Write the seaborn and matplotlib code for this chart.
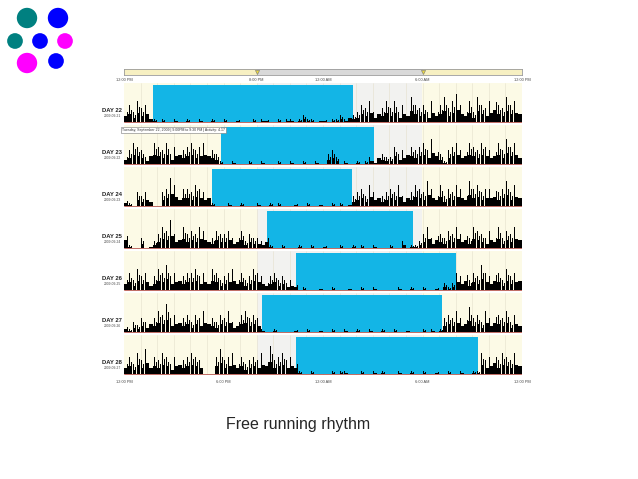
import numpy as np
import pandas as pd
import seaborn as sns
import matplotlib.pyplot as plt
from matplotlib.patches import Rectangle

sns.set_style("white")
plt.rcParams['font.family'] = ['Liberation Sans', 'DejaVu Sans']

# days shown in the actogram, top to bottom
days = ['DAY 22', 'DAY 23', 'DAY 24', 'DAY 25', 'DAY 26', 'DAY 27', 'DAY 28']
dates = ['2009-09-21', '2009-09-22', '2009-09-23', '2009-09-24',
         '2009-09-25', '2009-09-26', '2009-09-27']

# sleep bouts (hours after 12:00 PM)
sleep_start = [1.75, 5.85, 5.3, 8.6, 10.4, 8.3, 10.4]
sleep_end = [13.8, 15.1, 13.75, 17.4, 20.0, 19.2, 21.35]

# dark period (hours after 12:00 PM)
dark_start, dark_end = 8.0, 18.0

# activity counts, 15-minute bins (0-10)
act22 = [4, 5, 3, 6, 4, 5, 2, 1,  0, 1, 0, 0, 1, 0, 0, 1,  0, 0, 1, 0, 0, 1, 0, 0,
         1, 0, 0, 1, 0, 0, 0, 1,  0, 1, 1, 0, 0, 1, 0, 1,  1, 0, 1, 2, 1, 1, 0, 1,
         1, 0, 1, 1, 2, 1, 3, 2,  3, 5, 4, 6, 3, 5, 4, 6,  4, 6, 3, 5, 4, 7, 5, 4,
         5, 3, 6, 4, 5, 7, 4, 6,  8, 5, 4, 6, 3, 7, 5, 4,  6, 8, 5, 4, 7, 5, 6, 5]
act23 = [3, 4, 6, 5, 4, 2, 5, 6,  5, 4, 6, 3, 5, 6, 4, 5,  6, 4, 5, 6, 5, 4, 3, 1,
         0, 0, 1, 0, 0, 0, 1, 0,  0, 1, 0, 0, 0, 1, 0, 0,  1, 0, 0, 1, 0, 0, 1, 0,
         0, 3, 4, 2, 0, 1, 0, 0,  1, 0, 1, 2, 1, 4, 3, 2,  2, 5, 3, 4, 6, 5, 4, 5,
         6, 4, 7, 5, 3, 1, 4, 5,  6, 4, 5, 6, 5, 4, 6, 5,  4, 5, 6, 4, 7, 5, 6, 4]
act24 = [2, 1, 0, 4, 3, 4, 3, 0,  0, 4, 5, 8, 6, 4, 5, 5,  4, 6, 5, 4, 5, 1, 0, 0,
         0, 1, 0, 0, 1, 0, 0, 0,  1, 0, 0, 1, 0, 1, 0, 0,  0, 1, 0, 0, 1, 0, 0, 1,
         0, 0, 1, 0, 1, 0, 1, 3,  4, 5, 3, 6, 4, 5, 3, 4,  5, 4, 6, 3, 5, 4, 6, 5,
         4, 7, 5, 4, 6, 3, 5, 4,  6, 5, 4, 7, 5, 6, 4, 5,  5, 6, 4, 5, 7, 4, 6, 5]
act25 = [5, 1, 0, 0, 3, 0, 1, 2,  4, 6, 5, 8, 4, 5, 6, 4,  5, 4, 6, 5, 4, 3, 5, 4,
         4, 5, 3, 4, 5, 2, 4, 3,  3, 2, 4, 1, 0, 0, 1, 0,  0, 0, 1, 0, 0, 1, 0, 0,
         1, 0, 0, 0, 1, 0, 0, 1,  0, 1, 0, 0, 1, 0, 0, 0,  1, 0, 0, 2, 0, 1, 1, 2,
         4, 6, 3, 5, 4, 3, 5, 4,  6, 4, 5, 3, 6, 5, 4, 3,  5, 4, 6, 3, 5, 4, 6, 5]
act26 = [4, 5, 3, 6, 4, 5, 3, 4,  6, 5, 7, 4, 5, 6, 4, 5,  5, 6, 4, 5, 4, 6, 5, 3,
         4, 5, 6, 4, 5, 3, 4, 6,  5, 4, 3, 4, 5, 3, 4, 2,  3, 2, 0, 1, 0, 0, 0, 1,
         0, 0, 1, 0, 0, 0, 1, 0,  0, 1, 0, 0, 1, 0, 0, 0,  0, 0, 1, 0, 0, 1, 0, 0,
         1, 0, 0, 1, 0, 2, 1, 2,  5, 4, 6, 3, 5, 4, 7, 5,  4, 6, 5, 3, 6, 4, 5, 6]
act27 = [2, 1, 3, 2, 4, 3, 5, 4,  6, 5, 8, 4, 5, 6, 4, 5,  3, 5, 4, 6, 5, 4, 3, 5,
         4, 6, 3, 4, 5, 6, 4, 5,  4, 1, 0, 0, 1, 0, 0, 0,  0, 1, 0, 0, 1, 0, 0, 1,
         0, 0, 1, 0, 0, 1, 0, 0,  1, 0, 0, 1, 0, 0, 1, 0,  0, 1, 0, 0, 1, 0, 0, 0,
         1, 0, 1, 0, 1, 4, 5, 4,  6, 4, 5, 7, 4, 5, 3, 6,  4, 6, 5, 4, 6, 3, 5, 4]
act28 = [4, 5, 3, 6, 4, 7, 4, 5,  4, 6, 5, 3, 5, 6, 4, 5,  6, 5, 4, 0, 0, 0, 5, 7,
         4, 5, 6, 4, 5, 3, 4, 5,  4, 6, 5, 8, 4, 5, 6, 4,  5, 4, 1, 0, 0, 1, 0, 0,
         0, 0, 1, 0, 1, 1, 0, 0,  0, 1, 0, 0, 1, 0, 1, 0,  0, 0, 1, 0, 0, 1, 0, 0,
         1, 0, 0, 1, 0, 0, 1, 0,  0, 1, 0, 0, 1, 1, 6, 4,  5, 7, 4, 6, 5, 4, 6, 5]
activity = [act22, act23, act24, act25, act26, act27, act28]

hour_ticks = [0, 6, 12, 18, 24]
hour_labels = ['12:00 PM', '6:00 PM', '12:00 AM', '6:00 AM', '12:00 PM']
top_ticks = [0, 8, 12, 18, 24]
top_labels = ['12:00 PM', '8:00 PM', '12:00 AM', '6:00 AM', '12:00 PM']

# decorative dots of the slide
dot_x = [27, 58, 15, 40, 65, 27, 56]
dot_y = [18, 18, 41, 41, 41, 63, 61]
dot_col = ['teal', 'blue', 'teal', 'blue', 'magenta', 'magenta', 'blue']
dot_size = ['big', 'big', 'small', 'small', 'small', 'big', 'small']

W, H = 638, 479
fig = plt.figure(figsize=(W / 100, H / 100), dpi=100)
fig.patch.set_facecolor('white')

# ---- dots
axd = fig.add_axes([0, 0, 1, 1])
axd.set_xlim(0, W)
axd.set_ylim(H, 0)
axd.axis('off')
dots = pd.DataFrame({'x': dot_x, 'y': dot_y, 'c': dot_col, 's': dot_size})
sns.scatterplot(data=dots, x='x', y='y', hue='c', size='s',
                palette={'teal': '#008080', 'blue': '#0000ff', 'magenta': '#ff00ff'},
                sizes={'big': 215, 'small': 128}, linewidth=0, legend=False, ax=axd)
axd.text(226, 424, 'Free running rhythm', fontsize=11.5, va='center', ha='left')

# ---- top time bar
axt = fig.add_axes([124 / W, 1 - 75 / H, 398 / W, 6 / H])
axt.set_xlim(0, 24)
axt.set_ylim(0, 1)
axt.add_patch(Rectangle((0, 0), dark_start, 1, color='#f7f0c2'))
axt.add_patch(Rectangle((dark_start, 0), dark_end - dark_start, 1, color='#d9d9d9'))
axt.add_patch(Rectangle((dark_end, 0), 24 - dark_end, 1, color='#f7f0c2'))
for s in axt.spines.values():
    s.set_color('#9a9a9a')
    s.set_linewidth(0.6)
axt.set_yticks([])
axt.set_xticks(top_ticks)
axt.set_xticklabels(top_labels, fontsize=2.8, color='#444444')
axt.set_xticks(np.arange(0, 25, 1), minor=True)
axt.tick_params(axis='x', which='both', length=1.5, width=0.4, pad=1, color='#888888')
axt.plot([dark_start, dark_end], [0.5, 0.5], ls='none', marker='v', ms=3,
         mfc='#e8d640', mec='#777777', mew=0.4, clip_on=False)

# ---- actogram
ax = fig.add_axes([124 / W, 1 - 377 / H, 398 / W, 294 / H])
ax.set_xlim(0, 24)
ax.set_ylim(0, 7)
ax.axis('off')
hours = np.arange(96) * 0.25 + 0.125
for i, day in enumerate(days):
    y0 = 6 - i
    base = y0 + 0.06
    ax.add_patch(Rectangle((0, base), 24, 0.93, color='#fcfae6', lw=0, zorder=0))
    ax.add_patch(Rectangle((dark_start, base), dark_end - dark_start, 0.93,
                           color='#f2f2f0', lw=0, zorder=0))
    for h in range(1, 24):
        ax.plot([h, h], [base, base + 0.93], color='#e4e0cc', lw=0.4, zorder=0.5)
    ax.add_patch(Rectangle((sleep_start[i], base), sleep_end[i] - sleep_start[i], 0.9,
                           color='#13b5e6', lw=0, zorder=1))
    vals = np.array(activity[i]) / 10 * 0.85
    # dense low mass plus thin spikes
    ax.bar(hours, vals * 0.45, width=0.22, bottom=base, color='black', lw=0, zorder=2)
    ax.bar(hours - 0.06, vals, width=0.05, bottom=base, color='black', lw=0, zorder=2)
    ax.bar(hours + 0.07, vals * 0.7, width=0.04, bottom=base, color='black', lw=0, zorder=2)
    ax.plot([0, 24], [base, base], color='#b5534a', lw=0.6, zorder=3)
    ax.text(-0.15, base + 0.22, day, fontsize=4.2, fontweight='bold',
            ha='right', va='bottom', color='#222222')
    ax.text(-0.15, base + 0.2, dates[i], fontsize=2.4, ha='right', va='top',
            color='#444444')
for xt, lab in zip(hour_ticks, hour_labels):
    ax.text(xt, -0.07, lab, fontsize=2.8, ha='center', va='top', color='#444444')

ax.text(-0.1, 5.93, 'Tuesday, September 22, 2009 | 9:00PM to 9:30 PM | Activity: 4.17',
        fontsize=2.5, ha='left', va='top', color='#333333', zorder=5,
        bbox=dict(boxstyle='square,pad=0.3', fc='white', ec='#777777', lw=0.4))

fig.savefig('out.png', dpi=100)
